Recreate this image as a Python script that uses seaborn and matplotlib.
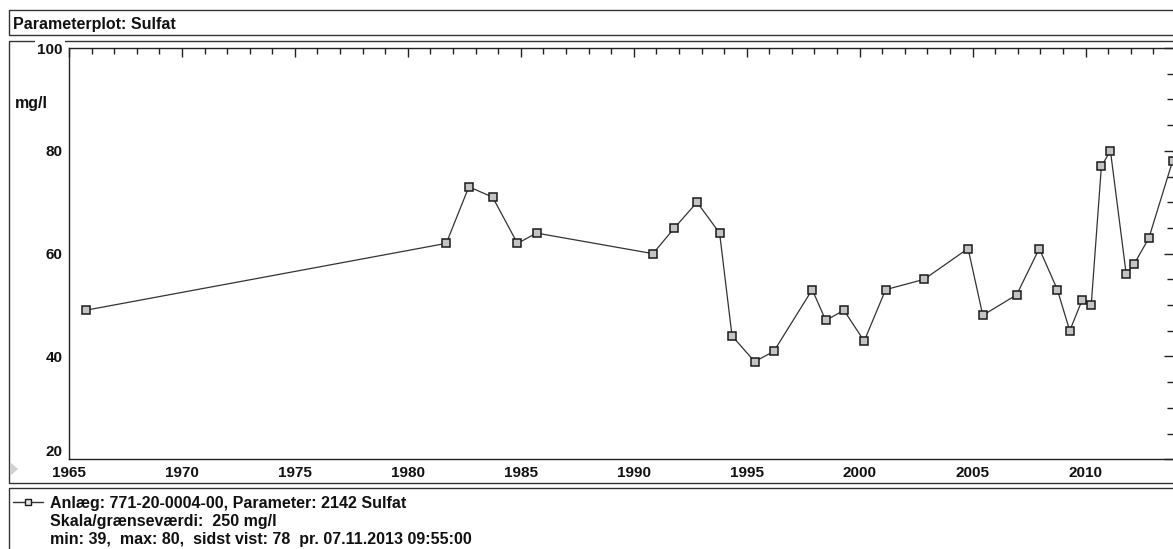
import matplotlib
matplotlib.use('Agg')
import matplotlib.pyplot as plt
from matplotlib.lines import Line2D
from matplotlib.patches import Polygon
from matplotlib.ticker import MultipleLocator
import seaborn as sns

years = [1965.75, 1981.7, 1982.7, 1983.75, 1984.85, 1985.7, 1990.85, 1991.8,
         1992.8, 1993.8, 1994.35, 1995.35, 1996.2, 1997.9, 1998.5, 1999.3,
         2000.2, 2001.15, 2002.85, 2004.8, 2005.45, 2006.95, 2007.95, 2008.75,
         2009.3, 2009.85, 2010.25, 2010.7, 2011.1, 2011.8, 2012.15, 2012.8,
         2013.85]
sulfat = [49, 62, 73, 71, 62, 64, 60, 65, 70, 64, 44, 39, 41, 53, 47, 49,
          43, 53, 55, 61, 48, 52, 61, 53, 45, 51, 50, 77, 80, 56, 58, 63, 78]

x_ticks = [1965, 1970, 1975, 1980, 1985, 1990, 1995, 2000, 2005, 2010]
x_tick_labels = ['1965', '1970', '1975', '1980', '1985', '1990', '1995',
                 '2000', '2005', '2010']
y_ticks = [20, 40, 60, 80, 100]
y_tick_labels = ['20', '40', '60', '80', '100']

title = 'Parameterplot: Sulfat'
unit = 'mg/l'
legend_lines = ['Anlæg: 771-20-0004-00, Parameter: 2142 Sulfat',
                'Skala/grænseværdi:  250 mg/l',
                'min: 39,  max: 80,  sidst vist: 78  pr. 07.11.2013 09:55:00']

sns.set_style('white')
plt.rcParams['font.family'] = ['Liberation Sans', 'DejaVu Sans']
plt.rcParams['text.color'] = '#111111'
plt.rcParams['xtick.color'] = '#111111'
plt.rcParams['ytick.color'] = '#111111'

W, H = 1173, 549
fig = plt.figure(figsize=(W / 100, H / 100), dpi=100)
ax = fig.add_axes([69 / W, 1 - 459.3 / H, (W - 69) / W, (459.3 - 48) / H])

sns.lineplot(x=years, y=sulfat, ax=ax, estimator=None, sort=False,
             color='#333333', linewidth=0.9, marker='s', markersize=6,
             markerfacecolor='#c4c4c4', markeredgecolor='#1a1a1a',
             markeredgewidth=1.1)

ax.set_xlim(1965, 2013.87)
ax.set_ylim(20, 100)
ax.set_xticks(x_ticks, labels=x_tick_labels)
ax.set_yticks(y_ticks, labels=y_tick_labels)
ax.xaxis.set_minor_locator(MultipleLocator(1))
ax.yaxis.set_minor_locator(MultipleLocator(5))
ax.tick_params(which='both', direction='in', top=True, right=True,
               width=1.0, color='#222222')
ax.tick_params(which='major', length=6.5, labelsize=11)
ax.tick_params(which='minor', length=4)
ax.tick_params(axis='x', pad=5)
ax.tick_params(axis='y', pad=4.5)
for lab in ax.get_xticklabels() + ax.get_yticklabels():
    lab.set_fontweight('bold')
ax.set_xlabel('')
ax.set_ylabel('')

for side in ['left', 'top', 'bottom']:
    ax.spines[side].set_linewidth(1.0)
    ax.spines[side].set_color('#222222')
ax.spines['right'].set_visible(False)

# bottom y label sits above the axis, top one hides the frame line behind it
yt = ax.yaxis.get_major_ticks()
yt[0].label1.set_verticalalignment('bottom')
yt[-1].label1.set_bbox(dict(facecolor='white', edgecolor='none', pad=1.5))


def frame_line(xs, ys):
    fig.add_artist(Line2D([x / W for x in xs], [1 - y / H for y in ys],
                          transform=fig.transFigure, color='#333333',
                          lw=1.0, zorder=-1))


# title box
frame_line([W + 5, 9, 9, W + 5], [10, 10, 35, 35])
# plot frame
frame_line([W + 5, 9, 9, W + 5], [40.7, 40.7, 483.3, 483.3])
# legend box
frame_line([W + 5, 9, 9], [488.3, 488.3, H + 5])

fig.text(13 / W, 1 - 29.3 / H, title, fontsize=11.5, fontweight='bold',
         va='baseline', ha='left')
fig.text(15 / W, 1 - 108 / H, unit, fontsize=11.5, fontweight='bold',
         va='baseline', ha='left')

fig.add_artist(Polygon([[10 / W, 1 - 462 / H], [10 / W, 1 - 476 / H],
                        [18 / W, 1 - 469 / H]], closed=True,
                       transform=fig.transFigure, color='#d0d0d0', lw=0))

# legend symbol
fig.add_artist(Line2D([13 / W, 43 / W], [1 - 501.7 / H] * 2,
                      transform=fig.transFigure, color='#333333', lw=1.0))
fig.add_artist(Line2D([28.5 / W], [1 - 501.7 / H], transform=fig.transFigure,
                      marker='s', markersize=5, markerfacecolor='#e6e6e6',
                      markeredgecolor='#1a1a1a', markeredgewidth=1.0))

for txt, base in zip(legend_lines, [507.7, 525.7, 544]):
    fig.text(50 / W, 1 - base / H, txt, fontsize=11.5, fontweight='bold',
             va='baseline', ha='left')

fig.savefig('out.png', dpi=100)
